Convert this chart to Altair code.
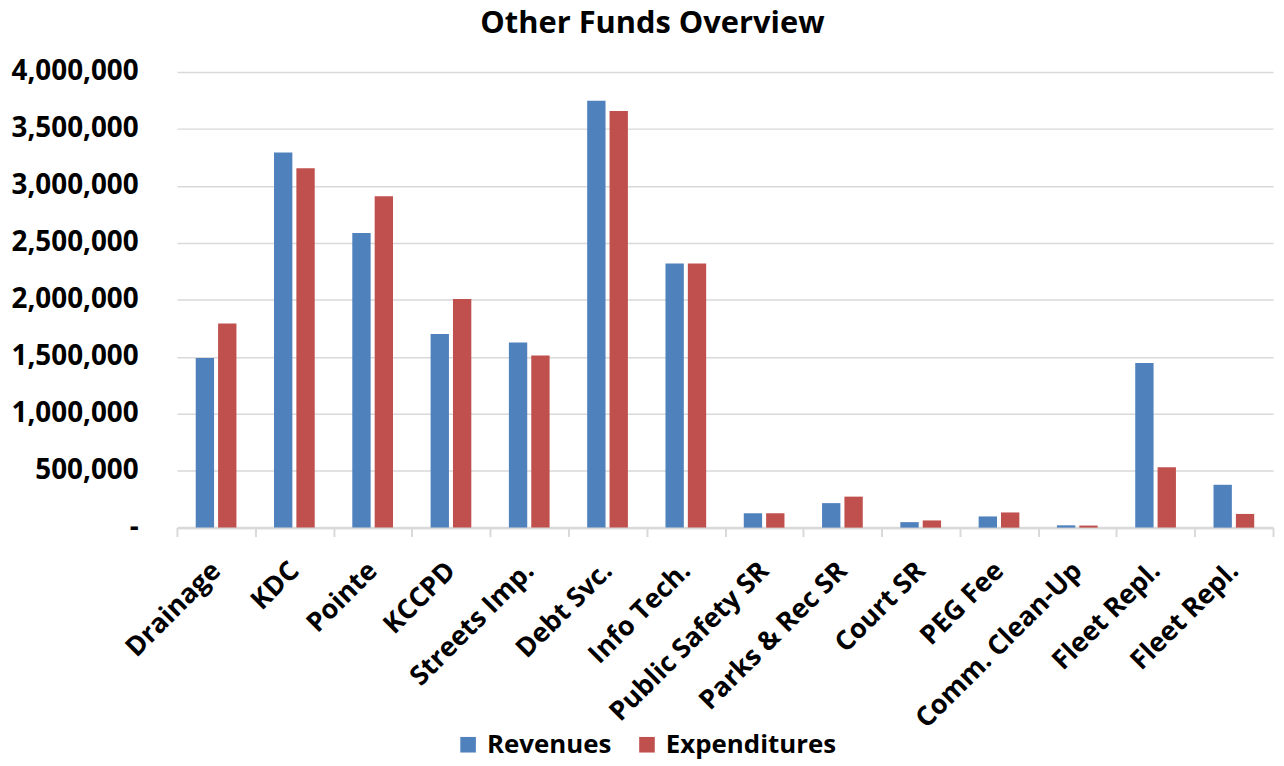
import altair as alt
import pandas as pd

categories = ["Drainage", "KDC", "Pointe", "KCCPD", "Streets Imp.", "Debt Svc.",
              "Info Tech.", "Public Safety SR", "Parks & Rec SR", "Court SR",
              "PEG Fee", "Comm. Clean-Up", "Fleet Repl.", "Fleet Repl."]
revenues = [1490000, 3294000, 2586000, 1700000, 1625000, 3747000, 2318000,
            126000, 215000, 48000, 98000, 20000, 1445000, 376000]
expenditures = [1792000, 3155000, 2908000, 2007000, 1510000, 3657000, 2318000,
                126000, 272000, 63000, 133000, 18000, 530000, 120000]
series = ["Revenues", "Expenditures"]
colors = ["#4F81BD", "#C0504D"]
y_ticks = [0, 500000, 1000000, 1500000, 2000000, 2500000, 3000000, 3500000, 4000000]

keys = [f"{i:02d}|{c}" for i, c in enumerate(categories)]
rows = []
for k, r, e in zip(keys, revenues, expenditures):
    rows.append({"key": k, "series": series[0], "value": r})
    rows.append({"key": k, "series": series[1], "value": e})
df = pd.DataFrame(rows)

FONT = "Open Sans"

chart = alt.Chart(df).mark_bar().encode(
    x=alt.X("key:N", sort=keys,
            scale=alt.Scale(paddingInner=0, paddingOuter=0),
            axis=alt.Axis(title=None,
                          labelExpr="split(datum.value, '|')[1]",
                          labelAngle=-45, labelAlign="right", labelBaseline="middle",
                          labelFont=FONT, labelFontSize=27, labelFontWeight="bold",
                          labelColor="#000000", labelPadding=30, labelLimit=0,
                          tickBand="extent", ticks=True, tickSize=9, tickWidth=2,
                          tickColor="#d9d9d9", domainColor="#d9d9d9", domainWidth=2.5,
                          grid=False, labelOverlap=False)),
    xOffset=alt.XOffset("series:N", sort=series,
                        scale=alt.Scale(paddingInner=0.18, paddingOuter=0.84)),
    y=alt.Y("value:Q",
            scale=alt.Scale(domain=[0, 4000000], nice=False),
            axis=alt.Axis(title=None, values=y_ticks,
                          labelExpr="datum.value == 0 ? '-' : format(datum.value, ',')",
                          labelFont=FONT, labelFontSize=28, labelFontWeight="bold",
                          labelColor="#000000", labelPadding=39,
                          grid=True, gridColor="#d9d9d9", gridWidth=1.5,
                          domain=False, ticks=False)),
    color=alt.Color("series:N", sort=series,
                    scale=alt.Scale(domain=series, range=colors),
                    legend=alt.Legend(title=None, orient="none", direction="horizontal",
                                      legendX=280, legendY=664, labelLimit=0,
                                      symbolType="square", symbolSize=246,
                                      symbolStrokeWidth=0, labelOffset=6,
                                      columnPadding=22,
                                      labelFont=FONT, labelFontSize=26,
                                      labelFontWeight="bold", labelColor="#000000")),
).properties(
    width=1103,
    height=458.5,
    title=alt.TitleParams("Other Funds Overview", font=FONT, fontSize=31,
                          fontWeight="bold", color="#000000", anchor="middle",
                          frame="group", dx=-73, offset=18),
    autosize=alt.AutoSizeParams(type="none"),
    padding={"left": 170, "top": 62, "right": 3, "bottom": 236},
).configure_view(stroke=None)

chart.save("out.html", embed_options={"renderer": "svg", "actions": False})
